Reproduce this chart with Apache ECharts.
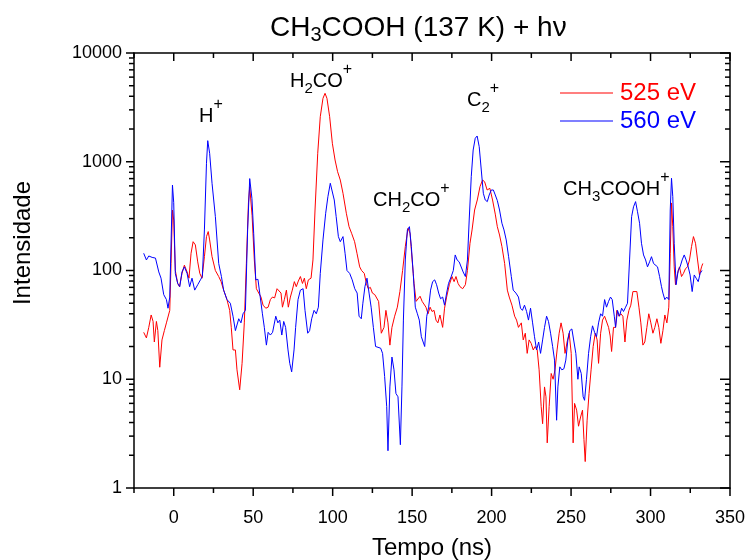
<!DOCTYPE html>
<html><head><meta charset="utf-8">
<script src="https://cdn.jsdelivr.net/npm/echarts@6/dist/echarts.min.js"></script>
<style>html,body{margin:0;padding:0;background:#fff}#c{width:747px;height:560px}</style>
</head><body><div id="c"></div>
<script>
const FONT = '"Liberation Sans", Arial, Helvetica, sans-serif';
const seriesNames = ['525 eV', '560 eV'];
const xLabels = [0, 50, 100, 150, 200, 250, 300, 350];
const xMinor = [-25, 25, 75, 125, 175, 225, 275, 325];
const yMajor = [1, 10, 100, 1000, 10000];
const data525 = [[-18.9,27],[-17.2,24],[-15.7,30],[-14.2,39],[-13.0,34],[-12.2,22],[-10.9,34],[-10.0,28],[-8.8,12.9],[-7.4,23],[-5.9,28],[-4.6,33],[-3.4,33],[-2.5,43],[-1.7,116],[-0.8,360],[0,291],[1.0,100],[2.5,76],[3.6,71],[5.2,94],[6.7,112],[8.4,97],[9.6,85],[10.9,144],[12.2,184],[13.6,172],[15.1,120],[16.4,94],[17.8,85],[19.3,134],[20.6,205],[21.7,228],[22.6,191],[24.1,134],[26.2,100],[28.3,88],[29.8,79],[31.4,66],[33.5,54],[35.2,43],[36.2,30],[37.3,18.6],[38.8,18.6],[39.8,12.2],[41.5,8.0],[43.0,14],[44.4,33],[45.7,116],[47.0,418],[47.8,590],[49.3,320],[50.7,125],[52.0,68],[53.5,62],[54.9,57],[56.2,48],[57.9,45],[59.4,46],[60.8,54],[62.1,57],[63.5,56],[65.0,68],[66.2,66],[67.5,62],[68.4,46],[69.6,54],[70.9,66],[72.1,46],[73.4,57],[74.6,66],[75.9,79],[77.1,71],[78.4,80],[79.7,88],[81.0,76],[82.2,85],[83.4,68],[84.7,82],[86.4,85],[87.6,125],[88.9,360],[90.6,1196],[92.2,2596],[93.9,3830],[95.2,4260],[96.4,3830],[98.1,2596],[99.8,1479],[101.5,1038],[103.1,810],[104.8,679],[106.5,513],[108.6,336],[110.3,253],[111.9,220],[113.8,184],[115.3,144],[117.0,108],[118.2,100],[119.9,94],[121.2,76],[122.4,68],[123.7,70],[125.0,62],[126.5,60],[128.9,52],[130.6,26.5],[132.3,30],[133.5,43],[134.8,33],[136.0,20.6],[137.3,30],[139.0,38],[140.7,46],[142.3,64],[144.0,100],[145.7,166],[147.4,244],[148.7,220],[150.0,125],[151.2,76],[152.5,52],[153.7,53],[155.0,58],[156.3,52],[157.5,53],[158.7,46],[160.0,40],[161.3,46],[162.5,42],[163.8,43],[165.0,35],[166.2,33],[167.5,39],[169.2,30],[170.4,45],[171.7,57],[173.4,74],[175.1,88],[176.4,79],[177.6,88],[178.9,76],[180.1,71],[181.8,68],[183.5,74],[184.8,100],[186.4,178],[187.7,236],[189.3,360],[191.0,445],[192.7,590],[194.3,679],[195.6,655],[197.2,550],[198.9,570],[200.6,445],[202.3,330],[203.6,253],[205.0,212],[206.5,166],[208.2,116],[209.9,66],[211.1,57],[212.8,48],[214.5,38],[215.7,35],[216.9,30],[218.7,33],[219.9,23],[221.2,26.5],[222.4,17.3],[223.6,23],[224.9,21.4],[226.2,18.6],[227.4,20],[228.7,18.6],[229.9,12.2],[231.2,5.6],[232.1,3.9],[233.3,8.5],[234.2,6.9],[235.0,2.6],[236.2,5.6],[237.5,11.3],[238.7,10],[239.9,12.2],[241.2,18.6],[242.5,26.5],[243.7,33],[245.0,26.5],[246.2,17.3],[247.5,22],[248.8,26.5],[250.1,17.3],[251.3,2.6],[252.2,6.0],[253.5,5.2],[254.7,3.7],[256.0,4.5],[257.2,5.2],[258.1,2.8],[258.9,1.75],[260.1,4.2],[261.3,7.4],[262.6,12.2],[263.9,20],[265.2,26.5],[266.4,23],[267.3,14],[268.6,26.5],[269.8,35],[271.1,38],[272.3,37],[273.6,30],[274.6,25],[275.5,18],[276.7,30],[278.0,30],[278.8,43],[280.1,38],[281.3,40],[282.6,38],[283.9,22],[285.1,35],[286.4,43],[287.6,48],[288.9,64],[290.1,62],[291.4,64],[292.7,46],[293.9,33],[295.2,20.6],[296.4,22],[297.7,30],[298.9,40],[300.2,33],[301.5,26.5],[302.7,30],[304.0,36],[305.2,30],[306.5,21.4],[307.8,28],[309.0,39],[310.3,33],[311.5,46],[312.4,144],[313.2,418],[314.0,253],[314.9,108],[315.7,74],[317.0,94],[318.2,108],[319.5,88],[320.7,94],[322.0,104],[323.3,108],[324.5,125],[325.8,166],[327.0,205],[328.3,178],[329.6,125],[330.8,91],[332.1,108],[332.9,116]];
const data560 = [[-18.9,144],[-17.2,125],[-15.7,136],[-13.6,132],[-11.5,130],[-9.4,97],[-8.0,85],[-6.3,60],[-4.6,54],[-3.6,45],[-2.5,57],[-0.8,611],[0,420],[1.0,94],[2.5,76],[3.8,71],[5.2,97],[6.7,108],[8.4,94],[10.0,71],[11.5,85],[13.2,66],[15.1,74],[16.8,82],[18.0,88],[19.3,236],[20.6,968],[21.4,1563],[22.6,1196],[24.1,634],[26.2,313],[28.3,116],[30.0,88],[31.4,66],[33.5,54],[35.6,50],[37.3,38],[38.8,28],[39.8,29],[40.9,36],[42.3,33],[43.6,40],[45.1,43],[46.5,236],[47.8,700],[49.2,460],[50.3,220],[51.6,82],[53.0,83],[54.1,62],[55.8,40],[57.0,30],[58.3,20.6],[59.4,27],[60.8,25.5],[62.2,27],[64.2,38],[65.5,33],[66.7,35],[68.0,25.5],[69.2,34],[70.4,30],[71.9,18.6],[73.0,14],[74.2,11.7],[75.7,18.6],[76.7,30],[78.2,54],[79.7,66],[81.4,68],[82.6,43],[84.3,26.5],[85.5,28],[86.8,36],[88.3,43],[89.7,40],[91.0,46],[92.2,94],[93.9,191],[95.6,336],[97.0,477],[98.5,634],[99.6,611],[101.0,445],[102.2,313],[103.6,205],[104.8,184],[106.5,205],[107.8,144],[109.0,100],[110.7,94],[112.3,82],[113.9,68],[115.4,62],[116.6,38],[118.0,36],[119.0,50],[120.3,71],[121.6,85],[122.9,62],[124.2,46],[125.6,30],[127.0,20],[128.1,20],[130.2,19.3],[131.4,17.3],[132.7,10.6],[134.0,5.6],[134.8,2.2],[136.0,8.5],[137.3,16],[138.6,12.2],[139.8,7.4],[141.1,6.9],[142.6,2.5],[143.6,8.5],[144.5,35],[145.7,125],[147.0,236],[148.3,253],[149.5,166],[150.7,94],[152.0,46],[153.3,40],[154.5,35],[155.8,24.6],[157.0,25.5],[157.9,20],[159.2,38],[160.4,46],[161.6,66],[162.9,79],[164.2,82],[165.4,74],[166.7,62],[167.9,55],[169.2,57],[170.4,48],[171.7,62],[172.9,76],[174.6,88],[175.9,100],[177.1,139],[178.3,125],[179.6,120],[180.8,116],[182.1,97],[183.5,88],[184.8,125],[185.9,291],[187.2,729],[188.4,1282],[189.7,1643],[190.9,1725],[192.2,1376],[193.5,840],[194.8,513],[196.0,445],[197.3,430],[198.5,495],[199.8,550],[201.1,550],[202.3,495],[203.6,440],[205.0,360],[206.5,272],[207.8,236],[209.2,191],[210.7,134],[212.4,88],[213.6,66],[215.3,62],[216.9,57],[218.2,45],[219.4,43],[220.7,48],[222.0,42],[223.2,35],[224.5,45],[225.8,33],[227.0,24.6],[228.3,18.6],[229.6,22],[230.8,17.3],[232.1,23],[233.3,30],[234.6,38],[235.8,34],[237.1,26.5],[238.4,20],[239.6,15],[240.9,4.2],[241.7,8.5],[242.9,13],[244.2,12.2],[245.5,12.5],[246.7,15],[248.0,23],[249.2,28],[250.5,29],[251.7,29],[253.0,17.3],[254.3,10],[255.1,13],[256.4,11.3],[257.6,6.9],[258.5,6.4],[259.7,10],[261.0,17.3],[262.3,24.6],[263.5,31],[264.8,27],[266.0,24.6],[267.3,33],[268.6,40],[269.8,38],[271.1,54],[272.3,46],[273.6,52],[274.8,57],[275.9,54],[277.2,38],[278.0,30],[279.2,43],[280.5,38],[281.8,45],[283.0,42],[284.3,46],[285.5,50],[286.8,125],[288.1,313],[289.3,385],[290.6,430],[291.8,347],[293.1,272],[294.3,178],[295.6,139],[296.9,125],[298.1,108],[299.4,120],[300.6,134],[301.9,116],[303.1,116],[304.4,108],[305.7,88],[306.9,71],[307.8,62],[309.0,54],[310.2,57],[311.5,54],[312.4,360],[313.2,705],[314.0,477],[314.9,178],[316.1,74],[317.4,100],[318.6,108],[319.9,125],[321.2,139],[322.4,125],[323.7,108],[324.9,91],[326.2,64],[327.5,91],[328.7,85],[330.0,79],[331.2,94],[332.4,100]];

const X_MIN = -25, X_MAX = 350, Y_MIN = 1, Y_MAX = 10000;
const minorY = [];
for (let d = 1; d < Y_MAX; d *= 10) for (let k = 2; k <= 9; k++) minorY.push(k * d);

const chart = echarts.init(document.getElementById('c'), null, {renderer: 'canvas'});
const axisLine = {show: true, onZero: false, lineStyle: {color: '#000', width: 1.5}};
const sub = (size, pad) => ({fontSize: size, fontFamily: FONT, fill: '#000', padding: [pad, 0, 0, 0]});
const sup = (size, pad) => ({fontSize: size, fontFamily: FONT, fill: '#000', padding: [0, 0, pad, 0]});
const mainT = (size) => ({fontSize: size, fontFamily: FONT, fill: '#000'});
function annot(id, x, y, text) {
  return {id: id, type: 'text', x: x, y: y, silent: true,
    style: {text: text, fontSize: 20, fontFamily: FONT, fill: '#000', verticalAlign: 'middle', align: 'left',
      rich: {m: mainT(20), b: sub(15, 16), p: sup(16, 22)}}};
}

chart.setOption({
  animation: false,
  backgroundColor: '#fff',
  grid: {left: 134, right: 17, top: 53, bottom: 72, containLabel: false, outerBoundsMode: 'none'},
  legend: {
    orient: 'vertical', left: 560, top: 81, padding: 0, itemWidth: 53, itemHeight: 1, itemGap: 4, icon: 'rect',
    textStyle: {fontSize: 24, fontFamily: FONT, padding: [0, 0, 0, 2]},
    data: [{name: seriesNames[0], textStyle: {color: '#ff0000'}}, {name: seriesNames[1], textStyle: {color: '#0000ff'}}]
  },
  xAxis: [
    {type: 'value', min: X_MIN, max: X_MAX, position: 'bottom',
      axisLine: axisLine, axisTick: {show: false},
      axisLabel: {show: true, customValues: xLabels, color: '#000', fontSize: 18, fontFamily: FONT, margin: 21},
      splitLine: {show: false},
      name: 'Tempo (ns)', nameLocation: 'middle', nameGap: 48,
      nameTextStyle: {fontSize: 24, fontFamily: FONT, color: '#000'}},
    {type: 'value', min: X_MIN, max: X_MAX, position: 'top',
      axisLine: axisLine, axisTick: {show: false}, axisLabel: {show: false}, splitLine: {show: false}}
  ],
  yAxis: [
    {type: 'log', logBase: 10, min: Y_MIN, max: Y_MAX, position: 'left',
      axisLine: axisLine, axisTick: {show: false},
      axisLabel: {color: '#000', fontSize: 18, fontFamily: FONT, margin: 12, formatter: v => String(v)},
      splitLine: {show: false}},
    {type: 'log', logBase: 10, min: Y_MIN, max: Y_MAX, position: 'right',
      axisLine: axisLine, axisTick: {show: false}, axisLabel: {show: false}, splitLine: {show: false}}
  ],
  series: [
    {name: seriesNames[0], type: 'line', data: data525, symbol: 'none', showSymbol: false,
      lineStyle: {color: '#ff0000', width: 1}, itemStyle: {color: '#ff0000'}, silent: true},
    {name: seriesNames[1], type: 'line', data: data560, symbol: 'none', showSymbol: false,
      lineStyle: {color: '#0000ff', width: 1}, itemStyle: {color: '#0000ff'}, silent: true}
  ],
  graphic: [
    {id: 'title', type: 'text', x: 270, y: 28, silent: true,
      style: {text: '{m|CH}{s|3}{m|COOH (137 K) + hν}', verticalAlign: 'middle', align: 'left',
        fontSize: 28, fontFamily: FONT, fill: '#000',
        rich: {m: mainT(28), s: sub(20, 15)}}},
    {id: 'ytitle', type: 'text', x: 23, y: 243, rotation: Math.PI / 2, silent: true,
      style: {text: 'Intensidade', fontSize: 24, fontFamily: FONT, fill: '#000', align: 'center', verticalAlign: 'middle'}},
    annot('a1', 199, 116, '{m|H}{p|+}'),
    annot('a2', 290, 81, '{m|H}{b|2}{m|CO}{p|+}'),
    annot('a3', 373, 200, '{m|CH}{b|2}{m|CO}{p|+}'),
    annot('a4', 467, 100, '{m|C}{b|2}{p|+}'),
    annot('a5', 563, 189, '{m|CH}{b|3}{m|COOH}{p|+}')
  ]
});

// Tick marks, positioned through the chart's own scales (thin rects)
try {
  const g = [];
  const P = (x, y) => chart.convertToPixel({xAxisIndex: 0, yAxisIndex: 0}, [x, y]);
  const T = 1.5;
  const rect = (x, y, w, h) => g.push({id: 'tk' + g.length, type: 'rect', silent: true, z: 100,
    shape: {x: x, y: y, width: w, height: h}, style: {fill: '#000'}});
  const p0 = P(X_MIN, Y_MIN), p1 = P(X_MAX, Y_MAX);
  const yb = p0[1], yt = p1[1], xl = p0[0], xr = p1[0];
  xLabels.forEach(x => { const px = P(x, 1)[0]; rect(px - T / 2, yb, T, 8); rect(px - T / 2, yt, T, 8); });
  xMinor.forEach(x => { const px = P(x, 1)[0]; rect(px - T / 2, yb, T, 5); rect(px - T / 2, yt, T, 5); });
  yMajor.forEach(v => { const py = P(X_MIN, v)[1]; rect(xl - 8, py - T / 2, 8, T); rect(xr - 10, py - T / 2, 10, T); });
  minorY.forEach(v => { const py = P(X_MIN, v)[1]; rect(xl - 5, py - T / 2, 5, T); rect(xr - 5, py - T / 2, 5, T); });
  chart.setOption({graphic: {elements: g}});
} catch (e) { /* ticks are decorative */ }
</script>
</body></html>
